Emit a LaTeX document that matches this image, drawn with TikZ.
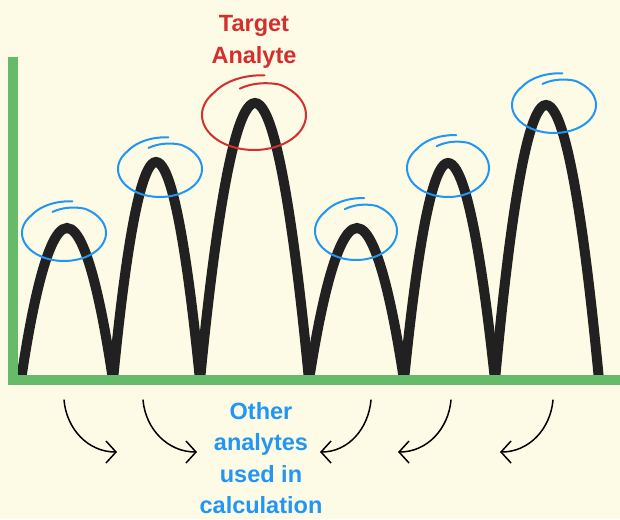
\documentclass[tikz,border=0pt]{standalone}
\usepackage{fontspec}
\setmainfont{Liberation Sans}
\usetikzlibrary{arrows.meta}

\definecolor{paper}{HTML}{FDFAE6}
\definecolor{axisgreen}{HTML}{66BB6A}
\definecolor{peakblack}{HTML}{212121}
\definecolor{ringblue}{HTML}{2196F3}
\definecolor{ringred}{HTML}{D32F2F}

\begin{document}
\begin{tikzpicture}[
       x=1pt, y=-1pt,
       declare function={ringr(\t)=1-0.2*max(0,1-(\t-250)/50)+0.15*max(0,1-(640-\t)/60);},
       axisline/.style={axisgreen, line width=10pt},
       peak/.style={peakblack, line width=10pt},
       ring/.style={line width=2pt, line cap=round},
       callout/.style={font=\bfseries\fontsize{23.5}{31.5}\selectfont, align=center, inner sep=0pt},
       curvearrow/.style={black, line width=1.5pt, line cap=round, -{Straight Barb[length=10pt,width=22pt]}}
   ]

   \fill[paper] (0,0) rectangle (620,519);
   \useasboundingbox (0,0) rectangle (620,519);

   % peaks
   \foreach \xa/\xp/\yp/\xb in {21/67/228/113, 113/156/162/200, 200/255/103/309,
                                309/357/228/404, 404/448/163/495, 495/546/105/599} {
       \draw[peak] (\xa,380) parabola bend (\xp,\yp) (\xb,380);
   }

   % axes
   \coordinate (ytop) at (13,57);
   \coordinate (origin) at (13,380);
   \coordinate (xend) at (620,380);
   \draw[axisline] (ytop) -- (origin) -- (xend);

   % rings round the peaks
   \foreach \cx/\cy/\rx/\ry/\col in {64/233/42/28/ringblue, 160/169/42/28/ringblue,
                                     254/115/52/35/ringred, 356/231/41/29/ringblue,
                                     448/168/41/29/ringblue, 554/105/42/28/ringblue} {
       \draw[ring, \col] plot[domain=250:640, samples=100, smooth, variable=\t]
           ({\cx+\rx*ringr(\t)*cos(\t)}, {\cy+\ry*ringr(\t)*sin(\t)});
   }

   \node[callout, text=ringred] (target) at (254,42) {Target\\Analyte};
   \node[callout, text=ringblue] (others) at (261,458) {Other\\analytes\\used in\\calculation};

   % arrows
   \foreach \i/\sx/\tx/\o/\n in {1/64/117/-85/180, 2/143/197/-85/180, 3/371/320/-95/0,
                                 4/451/398/-95/0, 5/553/500/-95/0} {
       \coordinate (from\i) at (\sx,400);
       \coordinate (to\i) at (\tx,452);
       \draw[curvearrow] (from\i) to[out=\o, in=\n] (to\i);
   }
\end{tikzpicture}
\end{document}
